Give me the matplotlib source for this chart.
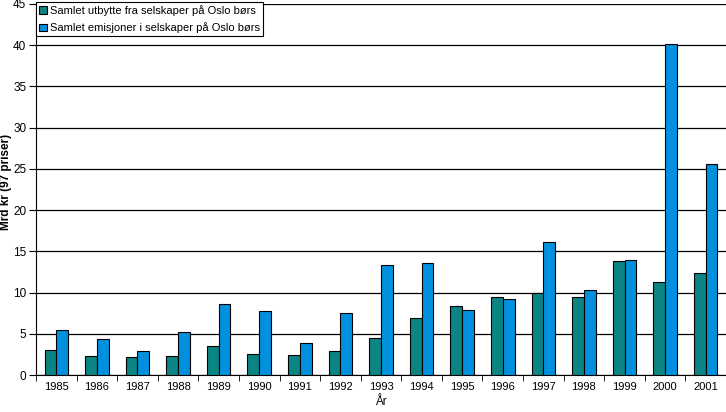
import matplotlib.pyplot as plt
import numpy as np

plt.rcParams['font.family'] = ['Liberation Sans', 'DejaVu Sans']

aar = ['1985', '1986', '1987', '1988', '1989', '1990', '1991', '1992', '1993',
       '1994', '1995', '1996', '1997', '1998', '1999', '2000', '2001']
utbytte = [3.0, 2.3, 2.2, 2.3, 3.5, 2.6, 2.4, 2.9, 4.5,
           6.9, 8.4, 9.5, 10.0, 9.5, 13.8, 11.3, 12.4]
emisjoner = [5.4, 4.4, 2.9, 5.2, 8.6, 7.8, 3.9, 7.5, 13.4,
             13.6, 7.9, 9.2, 16.1, 10.3, 13.9, 40.1, 25.6]

fig = plt.figure(figsize=(7.26, 4.12), dpi=100)
ax = fig.add_axes([36 / 726, 37 / 412, 690 / 726, 371 / 412])

x = np.arange(len(aar))
b = 0.29
ax.bar(x - b / 2, utbytte, b, color='#0A8584', edgecolor='black', linewidth=0.8,
       label='Samlet utbytte fra selskaper på Oslo børs', zorder=3)
ax.bar(x + b / 2, emisjoner, b, color='#0090DD', edgecolor='black', linewidth=0.8,
       label='Samlet emisjoner i selskaper på Oslo børs', zorder=3)

ax.set_xlim(-0.5, len(aar) - 0.5)
ax.set_ylim(0, 45)
ax.set_yticks(range(0, 46, 5))
ax.yaxis.grid(True, color='black', linewidth=0.9)
ax.set_axisbelow(True)

ax.set_xticks(x)
ax.set_xticklabels(aar, fontsize=8)
ax.tick_params(axis='x', length=0, pad=5)
ax.set_xticks(np.arange(-0.5, len(aar), 1), minor=True)
ax.tick_params(axis='x', which='minor', length=4, direction='out')
ax.tick_params(axis='y', labelsize=8.5, length=5, direction='out', pad=2)

for s in ['top', 'right']:
    ax.spines[s].set_visible(False)

ax.set_ylabel('Mrd kr (97 priser)', fontsize=8.5, fontweight='bold')
ax.yaxis.set_label_coords(-0.035, 0.52)
ax.set_xlabel('År', fontsize=8.5, labelpad=3)

leg = ax.legend(loc='upper left', bbox_to_anchor=(0.0, 1.005), fontsize=8,
                frameon=True, fancybox=False, edgecolor='black', framealpha=1,
                handlelength=0.7, handleheight=0.7, handletextpad=0.3,
                borderpad=0.25, labelspacing=0.6, borderaxespad=0)
leg.get_frame().set_linewidth(0.8)

fig.savefig('out.png', dpi=100)
